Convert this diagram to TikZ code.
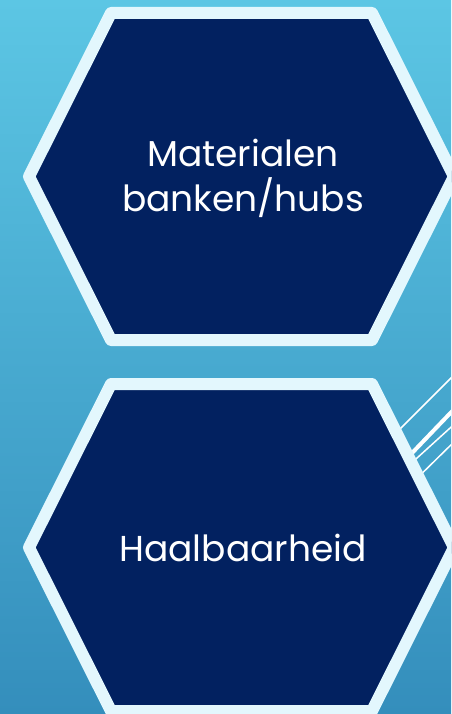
\documentclass[tikz,border=0pt]{standalone}
\usepackage{fontspec}
\setmainfont{Poppins}
\definecolor{hexnavy}{RGB}{2,33,96}
\definecolor{hexrim}{RGB}{227,247,253}
\definecolor{skytop}{RGB}{92,198,228}
\definecolor{skybot}{RGB}{52,142,188}
\tikzset{
  hexfill/.style={fill=hexnavy,draw=hexrim,line width=12pt,line join=round},
  hexlabel/.style={text=white,align=center,font=\fontsize{36}{45}\selectfont},
  streak/.style={draw=white,line cap=butt}
}
\begin{document}
\begin{tikzpicture}[x=1pt,y=-1pt]
  \useasboundingbox (0,0) rectangle (451,714);
  \clip (0,0) rectangle (451,714);
  \shade[top color=skytop,bottom color=skybot] (0,0) rectangle (451,714);

  % streaks behind the lower hexagon
  \draw[streak,line width=1.5pt] (380,449) -- (460,369);
  \draw[streak,line width=4pt] (390,476) -- (460,403);
  \draw[streak,line width=1.5pt] (395,478) -- (460,419);
  \draw[streak,line width=1.5pt] (400,495) -- (460,436);

  % hexagons
  \draw[hexfill] (29,176.5) -- (111,13) -- (372,13) -- (454,176.5) -- (372,340) -- (111,340) -- cycle;
  \draw[hexfill] (29,547.5) -- (111,384) -- (372,384) -- (454,547.5) -- (372,711) -- (111,711) -- cycle;

  \node[hexlabel] (matl) at (243,178) {Materialen\\banken/hubs};
  \node[hexlabel] (haal) at (243,548) {Haalbaarheid};
\end{tikzpicture}
\end{document}
